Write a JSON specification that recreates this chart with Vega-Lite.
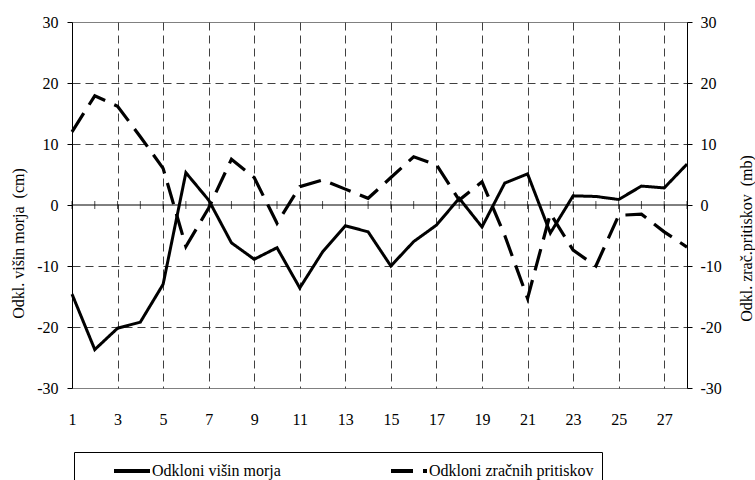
{
  "$schema": "https://vega.github.io/schema/vega-lite/v6.json",
  "width": 615,
  "height": 366,
  "autosize": {"type": "none"},
  "padding": {"left": 72, "top": 22, "right": 68, "bottom": 92},
  "background": "white",
  "config": {
    "font": "Liberation Serif",
    "view": {"stroke": "#808080", "strokeWidth": 1},
    "axis": {
      "labelFont": "Liberation Serif",
      "labelFontSize": 16,
      "labelColor": "#000",
      "labelExpr": "'' + datum.value",
      "titleFont": "Liberation Serif",
      "titleFontSize": 16,
      "titleFontWeight": "normal",
      "titleColor": "#000",
      "domainColor": "#000",
      "domainWidth": 1,
      "tickColor": "#000",
      "gridColor": "#404040",
      "gridDash": [8, 5],
      "gridWidth": 1
    }
  },
  "data": {
    "values": [
      {"dan": 1, "morje": -14.6, "tlak": 12.0},
      {"dan": 2, "morje": -23.7, "tlak": 17.9},
      {"dan": 3, "morje": -20.2, "tlak": 16.2},
      {"dan": 4, "morje": -19.2, "tlak": 11.2},
      {"dan": 5, "morje": -13.0, "tlak": 6.0},
      {"dan": 6, "morje": 5.3, "tlak": -6.8},
      {"dan": 7, "morje": 0.8, "tlak": -0.5},
      {"dan": 8, "morje": -6.2, "tlak": 7.5},
      {"dan": 9, "morje": -8.9, "tlak": 4.5},
      {"dan": 10, "morje": -7.0, "tlak": -3.0},
      {"dan": 11, "morje": -13.6, "tlak": 3.0},
      {"dan": 12, "morje": -7.7, "tlak": 4.1},
      {"dan": 13, "morje": -3.4, "tlak": 2.6},
      {"dan": 14, "morje": -4.4, "tlak": 1.1},
      {"dan": 15, "morje": -10.0, "tlak": 4.5},
      {"dan": 16, "morje": -6.0, "tlak": 7.9},
      {"dan": 17, "morje": -3.3, "tlak": 6.6},
      {"dan": 18, "morje": 1.1, "tlak": 0.8},
      {"dan": 19, "morje": -3.6, "tlak": 3.8},
      {"dan": 20, "morje": 3.6, "tlak": -5.0},
      {"dan": 21, "morje": 5.1, "tlak": -15.3},
      {"dan": 22, "morje": -4.6, "tlak": -1.4},
      {"dan": 23, "morje": 1.5, "tlak": -7.4},
      {"dan": 24, "morje": 1.4, "tlak": -10.0},
      {"dan": 25, "morje": 0.9, "tlak": -1.7},
      {"dan": 26, "morje": 3.1, "tlak": -1.5},
      {"dan": 27, "morje": 2.8, "tlak": -4.4},
      {"dan": 28, "morje": 6.7, "tlak": -6.9}
    ]
  },
  "layer": [
    {
      "transform": [{"aggregate": [{"op": "count", "as": "n"}]}],
      "mark": {"type": "rule", "color": "#000", "strokeWidth": 1},
      "encoding": {
        "y": {"datum": 0, "type": "quantitative", "axis": null}
      }
    },
    {
      "mark": {"type": "tick", "orient": "vertical", "color": "#000", "size": 8, "thickness": 1},
      "encoding": {
        "x": {
          "field": "dan", "type": "quantitative",
          "scale": {"domain": [1, 28], "nice": false, "zero": false},
          "axis": {
            "values": [1, 3, 5, 7, 9, 11, 13, 15, 17, 19, 21, 23, 25, 27],
            "grid": true,
            "gridOpacity": {"condition": {"test": "datum.value == 1", "value": 0}, "value": 1},
            "domain": false, "ticks": false, "labelPadding": 23, "labelFlush": false, "title": null
          }
        },
        "y": {"datum": 0, "type": "quantitative", "axis": null}
      }
    },
    {
      "mark": {"type": "line", "color": "#000", "strokeWidth": 3},
      "encoding": {
        "x": {
          "field": "dan", "type": "quantitative",
          "scale": {"domain": [1, 28], "nice": false, "zero": false},
          "axis": {
            "values": [1, 3, 5, 7, 9, 11, 13, 15, 17, 19, 21, 23, 25, 27],
            "grid": true,
            "gridOpacity": {"condition": {"test": "datum.value == 1", "value": 0}, "value": 1},
            "domain": false, "ticks": false, "labelPadding": 23, "labelFlush": false, "title": null
          }
        },
        "y": {
          "field": "morje", "type": "quantitative",
          "scale": {"domain": [-30, 30], "nice": false},
          "axis": {
            "orient": "left",
            "values": [-30, -20, -10, 0, 10, 20, 30],
            "grid": true,
            "gridOpacity": {"condition": {"test": "abs(datum.value) > 25 || datum.value == 0", "value": 0}, "value": 1},
            "tickSize": 5, "labelPadding": 9, "labelFlush": false,
            "title": "Odkl. višin morja\u00a0 (cm)",
            "titleAngle": 270, "titleX": -54, "titleY": 221,
            "titleBaseline": "middle", "titleAlign": "center"
          }
        },
        "strokeDash": {
          "datum": "Odkloni višin morja",
          "type": "nominal",
          "scale": {
            "domain": ["Odkloni višin morja", "Odkloni zračnih pritiskov"],
            "range": [[1, 0], [22, 10]]
          },
          "legend": {
            "orient": "none", "legendX": 2, "legendY": 430,
            "direction": "horizontal", "title": null,
            "symbolType": "M-2,0H2", "symbolStrokeWidth": 4, "symbolSize": 324,
            "symbolStrokeColor": "#000", "symbolFillColor": "transparent", "symbolOffset": 39,
            "labelFont": "Liberation Serif", "labelFontSize": 16, "labelColor": "#000",
            "labelOffset": 9, "labelLimit": 400, "columnPadding": 78,
            "padding": 8, "strokeColor": "#000", "fillColor": "#fff"
          }
        }
      }
    },
    {
      "mark": {"type": "line", "color": "#000", "strokeWidth": 3.2},
      "encoding": {
        "x": {
          "field": "dan", "type": "quantitative",
          "scale": {"domain": [1, 28], "nice": false, "zero": false},
          "axis": {
            "values": [1, 3, 5, 7, 9, 11, 13, 15, 17, 19, 21, 23, 25, 27],
            "grid": true,
            "gridOpacity": {"condition": {"test": "datum.value == 1", "value": 0}, "value": 1},
            "domain": false, "ticks": false, "labelPadding": 23, "labelFlush": false, "title": null
          }
        },
        "y": {
          "field": "tlak", "type": "quantitative",
          "scale": {"domain": [-30, 30], "nice": false},
          "axis": {
            "orient": "right",
            "values": [-30, -20, -10, 0, 10, 20, 30],
            "grid": false,
            "tickSize": 5, "labelPadding": 8, "labelFlush": false,
            "title": "Odkl. zrač.pritiskov\u00a0 (mb)",
            "titleAngle": 270, "titleX": 59, "titleY": 216,
            "titleBaseline": "middle", "titleAlign": "center"
          }
        },
        "strokeDash": {
          "datum": "Odkloni zračnih pritiskov",
          "type": "nominal"
        }
      }
    }
  ],
  "resolve": {"axis": {"y": "independent"}}
}
